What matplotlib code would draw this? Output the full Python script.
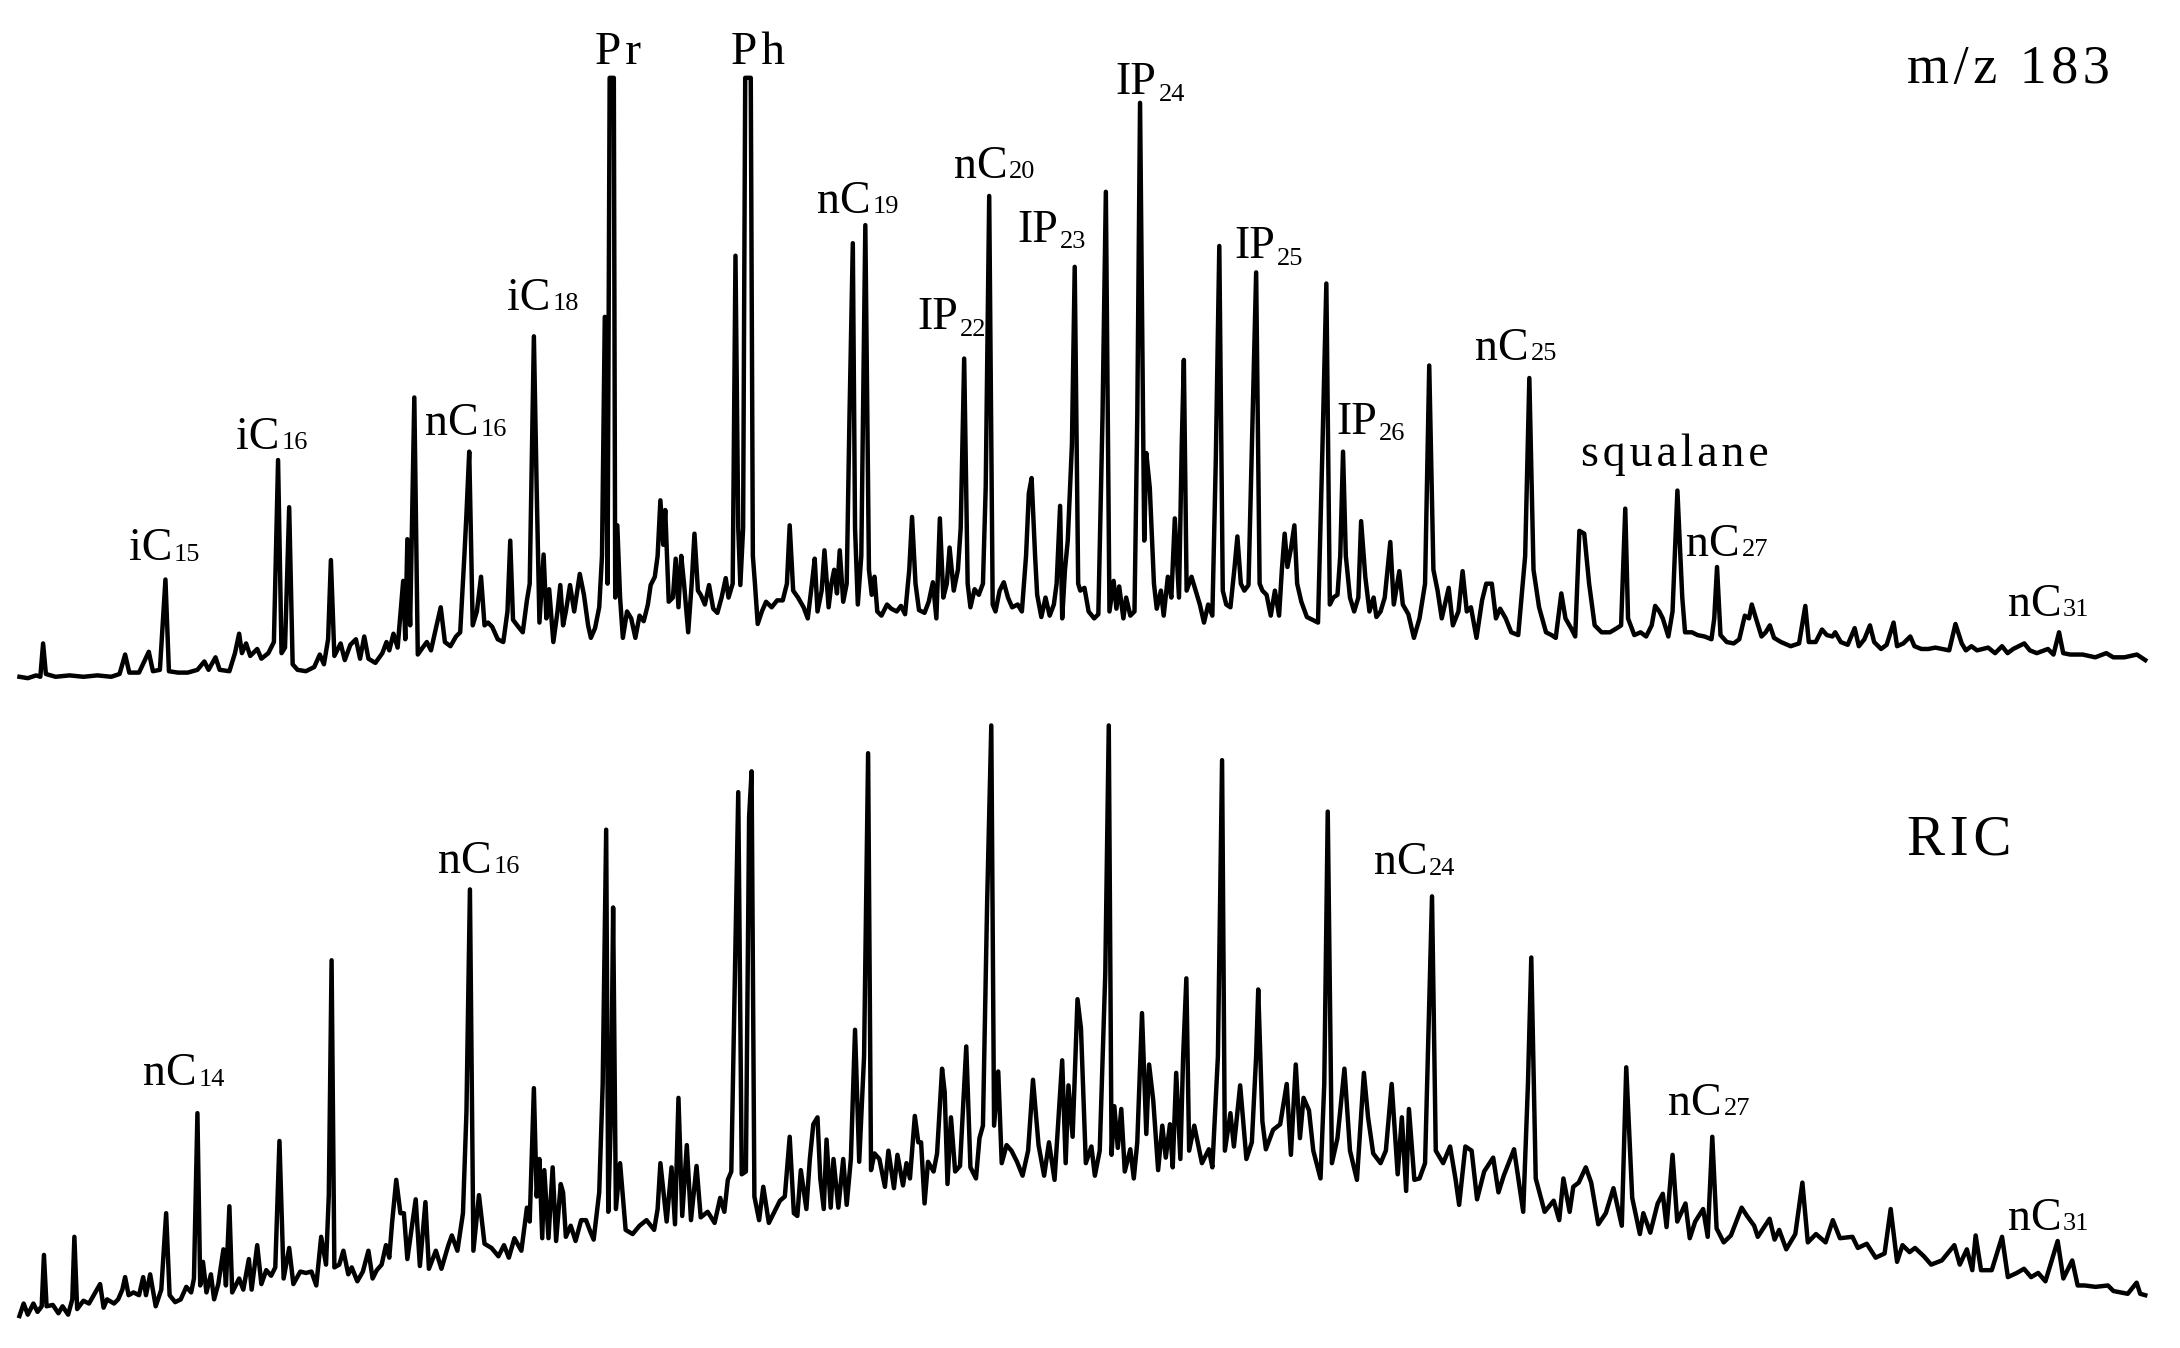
import matplotlib
matplotlib.use("Agg")
import matplotlib.pyplot as plt

# ---------------- data: scan number vs. abundance (arbitrary units) ----------------
# m/z 183 trace (vertices of the recorded trace: scan, abundance)
top_scan = [14, 20, 26, 29, 31, 33, 40, 50, 60, 70, 80, 86, 90, 93, 100, 107, 110, 115, 119, 121.5,
            128, 135, 142, 147, 150, 155, 158, 165, 169, 172, 174, 177, 180, 185, 188, 193, 195, 197,
            200, 202.5, 205, 208, 210.5, 214, 220, 226, 230, 233, 236, 238, 240.5, 245, 248, 252, 256,
            259, 262, 265, 270, 275, 278, 280, 283, 286, 290, 291.5, 293, 295, 298, 300.5, 304, 307,
            310, 314, 317, 320, 324, 328, 331, 334, 335.5, 337.5, 340, 343, 346, 348.5, 351, 354, 358,
            362, 365, 367, 369, 372, 376, 379, 381, 384, 386, 388, 391, 393, 395, 398, 401, 403, 405,
            407, 410, 413, 417, 420, 423, 425, 428, 431, 433, 435, 437, 438.5, 441.5, 442.5, 444, 446,
            448, 451, 454, 457, 460, 463, 466, 468, 471, 473, 475, 477, 478.5, 481, 484, 486, 488, 490,
            492, 495, 497.5, 499.5, 502, 504, 507, 510, 513, 516, 519, 522, 524, 527, 529, 531, 532.5,
            534.5, 536, 540, 541.5, 543, 545, 548, 551, 555, 559, 563, 566, 568, 570.5, 574, 578, 581,
            584, 586, 588, 591, 593, 596, 598, 600, 602, 604, 606.5, 609, 611, 613.4, 615, 617, 619.5,
            622.4, 625, 627, 629, 631, 634, 638, 641, 645, 648, 651, 654, 656, 658.5, 661, 665, 668,
            671, 673.5, 676, 678.5, 681, 683, 686, 689, 691, 693.5, 696, 698, 701, 704, 707, 709, 711.5,
            714, 716, 719, 722, 725, 728, 732, 735, 738, 740, 742, 744.5, 746, 749, 752, 755, 758, 760,
            762.5, 764, 766, 768, 771, 773, 775.5, 777, 780, 783, 787, 790, 793, 795.4, 798, 801, 803,
            805, 808, 810, 813, 816, 818, 820, 823, 824.5, 827, 830, 832, 835, 837, 840, 842.5, 845,
            848, 850, 851.5, 853.5, 857, 860, 863, 866, 869, 872, 874.5, 877, 879.5, 882, 885, 888, 890,
            892.5, 895, 898, 901, 903.5, 906, 908, 911, 914, 917, 920, 922, 924, 926, 928.5, 931, 933,
            936, 940, 944, 948, 951, 954, 956.5, 959, 962, 964, 966, 968, 971, 974, 977, 979, 982, 985,
            988, 990, 993, 996, 1000, 1002.5, 1006.5, 1009, 1013, 1017, 1021, 1025, 1028, 1031, 1034,
            1037, 1042, 1045, 1049, 1052, 1055, 1058, 1062, 1066, 1069, 1073, 1076, 1079, 1083, 1087,
            1092, 1097, 1100, 1103, 1107, 1112, 1116, 1119, 1123, 1126, 1130, 1133, 1136, 1139.5, 1143,
            1147, 1152, 1158, 1163, 1166, 1169, 1171, 1175.5, 1180, 1184, 1188, 1190.5, 1193.5, 1196,
            1200, 1203, 1206.5, 1210, 1212, 1217, 1221, 1226, 1231, 1233, 1235, 1237.5, 1242, 1247,
            1251, 1255, 1258, 1260, 1263, 1267, 1270, 1273, 1276, 1281, 1288, 1294, 1298.5, 1301, 1306,
            1310.5, 1314, 1318, 1320, 1324, 1329, 1334, 1337, 1341, 1345, 1348, 1353, 1357, 1362,
            1364.5, 1369, 1374, 1377, 1382, 1387, 1392, 1397, 1402, 1406.5, 1411, 1414, 1418, 1422,
            1430, 1435, 1440, 1444, 1448, 1456, 1460, 1465, 1473, 1477, 1481, 1484, 1489, 1498, 1507,
            1515, 1520, 1528, 1537, 1543]
top_abund = [13, 12, 14, 13, 37, 15, 13, 14, 13, 14, 13, 15, 29, 16, 16, 31, 17, 18, 83, 17,
             16, 16, 18, 24, 18, 27, 18, 17, 30, 44, 30, 37, 28, 33, 26, 30, 34, 38,
             169, 30, 34, 135, 22, 18, 17, 20, 29, 22, 40, 97, 28, 37, 25, 36, 40,
             26, 42, 26, 23, 30, 38, 32, 44, 34, 82, 40, 112, 50, 214, 29, 34, 38,
             32, 50, 63, 38, 35, 42, 45, 100, 130, 175, 50, 60, 85, 50, 52, 49, 40,
             38, 60, 111, 54, 50, 45, 68, 80, 258, 149, 52, 101, 55, 76, 38, 60, 79, 50,
             60, 79, 60, 87, 72, 50, 41, 48, 63, 100, 272, 80, 444, 444, 70, 122, 70,
             41, 60, 55, 41, 57, 53, 65, 79, 85, 100, 140, 108, 133, 67, 70, 98, 63, 100,
             80, 45, 80, 116, 75, 72, 65, 79, 62, 59, 70, 84, 70, 80, 316, 120, 79,
             120, 444, 444, 100, 80, 51, 60, 67, 63, 68, 68, 80, 122, 75, 70, 63, 55,
             80, 98, 60, 75, 104, 63, 80, 90, 73, 104, 67, 80, 200, 325, 120, 65, 100,
             338, 90, 72, 85, 60, 57, 65, 62, 60, 64, 58, 90, 128, 80, 61, 59, 67,
             81, 55, 127, 70, 80, 106, 75, 90, 120, 242, 80, 63, 76, 72, 80, 150, 359,
             65, 60, 75, 81, 70, 63, 65, 60, 100, 145, 156, 100, 72, 56, 70, 57, 65, 80,
             136, 55, 90, 111, 180, 308, 80, 75, 77, 60, 55, 58, 200, 362, 60, 82, 62,
             78, 55, 70, 57, 60, 200, 426, 111, 174, 149, 80, 62, 75, 57, 85, 70, 127,
             70, 180, 241, 75, 85, 75, 65, 52, 65, 57, 170, 323, 75, 65, 63, 92, 114,
             80, 75, 79, 200, 304, 80, 75, 72, 57, 75, 57, 90, 116, 92, 105, 122, 80,
             67, 56, 54, 52, 170, 296, 65, 70, 72, 100, 175, 100, 70, 60, 70, 125, 85, 60,
             70, 56, 60, 70, 110, 65, 89, 65, 58, 41, 55, 80, 237, 90, 75,
             55, 77, 50, 60, 89, 60, 63, 41, 68, 80, 80, 55, 62, 55, 45,
             43, 100, 228, 90, 63, 45, 43, 41, 73, 55, 48, 42, 118, 116, 80,
             50, 45, 45, 48, 50, 134, 55, 43, 45, 42, 50, 64, 60, 55,
             42, 60, 147, 70, 45, 45, 43, 42, 40, 55, 92, 43, 38, 37,
             40, 57, 55, 65, 55, 42, 45, 50, 41, 38, 35, 37, 64, 38, 38,
             47, 43, 42, 45, 38, 36, 48, 35, 40, 50, 38, 33, 36, 52,
             35, 37, 42, 35, 33, 33, 34, 33, 32, 51, 37, 32, 35, 32,
             34, 30, 35, 30, 33, 37, 32, 30, 33, 29, 45, 30, 29, 29, 27,
             30, 27, 27, 29, 25]

# RIC trace (vertices of the recorded trace: scan, abundance)
ric_scan = [14, 17, 20, 24, 27, 30, 31.6, 33.5, 38, 42, 45, 49, 52, 53.5, 55.5, 60, 64, 68, 72, 74.5,
            77, 82, 85, 88, 90, 92.5, 96, 100, 103, 105, 108, 112, 116, 119.5, 122, 126, 130, 134,
            137.5, 139.5, 142, 144, 146, 148.5, 151.7, 154, 157, 160.7, 162.5, 165, 167, 172, 175, 179,
            181, 185, 188, 191.5, 195, 198, 201, 204, 208, 211, 216, 220, 224, 227.5, 231, 234.5, 236.5,
            238.5, 240.5, 244, 247, 250.5, 253, 257, 261, 265, 268, 271, 274.5, 277.6, 280, 282, 285,
            288, 290.5, 293, 295.5, 299, 302, 306, 308.5, 313.5, 317.5, 322.5, 325, 329, 333, 335.5,
            338, 340.5, 344.5, 348.5, 353.5, 358.5, 362.5, 366, 370, 375, 379, 381, 384, 386, 388, 390,
            391.5, 394.5, 397.5, 400, 403.3, 405, 407, 410.5, 414, 418, 421.5, 424.5, 427, 431, 433.5,
            436, 437.5, 439.5, 441, 443, 446, 450, 455, 460, 465, 470.5, 473, 475, 479.5, 483, 485.5,
            488, 490.7, 494, 497, 501, 504, 509, 514, 518, 521, 523.5, 526, 528.5, 531, 533.5, 536.5,
            538.8, 540.6, 542.6, 546, 549, 553, 558, 561, 564.5, 568, 571, 573.5, 576, 580, 582.5, 585,
            588, 590, 592.5, 594.5, 597.5, 599.5, 603, 606.5, 609, 612, 615, 618, 621.5, 624.4, 626.5,
            629, 632.5, 636.5, 639, 643, 645.5, 649.5, 652, 654.5, 658, 660.5, 662.5, 665, 667.5, 671.5,
            674, 677.6, 679.5, 681.5, 684, 687, 690.5, 695, 698, 702, 704.5, 707, 710, 713, 715, 718,
            720.5, 724, 727.5, 731.5, 735.5, 739.5, 743, 747, 751, 754.5, 758.5, 764, 766.5, 768.5,
            771.5, 775, 777.5, 781, 785, 787.5, 791, 795, 797.5, 799.5, 801.5, 804, 806.5, 809, 813,
            815.5, 818, 821.4, 824.5, 826.5, 829.5, 833, 836, 838.5, 841.5, 843.5, 846, 849, 851, 853.3,
            855.3, 859, 864.5, 869.5, 872, 876, 879, 881, 885, 887.5, 892, 896.5, 900.4, 903.5, 905,
            908, 910.5, 915.7, 920.8, 925.5, 928.5, 932, 935, 937.6, 941.5, 944.6, 949.8, 952.5, 955,
            958, 962, 967, 971, 976, 981, 984, 987.7, 993, 996.8, 1001, 1005.3, 1008.3, 1011.4, 1013.4,
            1017.3, 1021, 1025, 1028, 1030, 1032.7, 1038, 1043, 1047, 1049.5, 1054, 1058.5, 1062.4,
            1067.5, 1074, 1077.8, 1081.6, 1089, 1095.6, 1099, 1101.4, 1104.6, 1111, 1117.5, 1121.5,
            1124.5, 1129, 1131.6, 1135.5, 1140.6, 1144.5, 1149.6, 1155, 1160.5, 1166.5, 1169.7, 1174,
            1179.5, 1182, 1187, 1192.3, 1196, 1198.7, 1203, 1206.4, 1212.3, 1215.4, 1219.3, 1225,
            1228.3, 1231.6, 1234.7, 1239.8, 1245, 1252.7, 1256.6, 1261.7, 1264.3, 1272.8, 1276.4,
            1279.7, 1284.8, 1291.3, 1296.4, 1300.3, 1306.2, 1313.1, 1318.3, 1323.4, 1332.4, 1336.3,
            1342.7, 1349.1, 1355.5, 1359.9, 1364.5, 1368.4, 1373.5, 1377.4, 1383.8, 1389, 1396.7,
            1405.7, 1409.6, 1414.7, 1418.6, 1421, 1424.9, 1432.6, 1440, 1444.2, 1450.6, 1455.8, 1460.9,
            1466, 1471.2, 1480, 1484.1, 1490.5, 1494.4, 1499.5, 1507.2, 1516.2, 1520.1, 1530.4, 1536.8,
            1539.4, 1543]
ric_abund = [13, 22, 14, 22, 16, 20, 57, 20, 21, 15, 20, 14, 25, 70, 18, 24, 22, 29, 36, 19,
             25, 22, 25, 32, 41, 28, 30, 28, 41, 28, 43, 20, 32, 87, 28, 23, 25, 34,
             30, 40, 159, 35, 52, 30, 43, 25, 36, 61, 35, 92, 30, 40, 32, 54,
             32, 64, 36, 46, 42, 48, 139, 40, 62, 36, 45, 44, 45, 35, 70, 50, 100,
             269, 48, 50, 60, 43, 48, 38, 45, 60, 40, 46, 50, 64, 55, 80, 111,
             87, 87, 54, 72, 97, 49, 95, 47, 60, 47, 64, 71, 60, 87, 160,
             320, 60, 100, 65, 62, 56, 64, 55, 69, 60, 91, 81, 177, 99, 126, 69,
             118, 69, 120, 67, 108, 102, 70, 78, 67, 82, 82, 74, 68, 102, 180,
             363, 88, 160, 307, 90, 123, 75, 72, 78, 82, 75, 90, 123, 81, 120, 79,
             170, 85, 136, 82, 121, 84, 88, 80, 98, 88, 111, 117, 252, 390, 115, 117,
             372, 405, 99, 82, 106, 80, 90, 96, 99, 142, 87, 85, 118, 90, 126, 151,
             156, 112, 90, 140, 91, 126, 91, 126, 93, 126, 219, 124, 200, 418, 118,
             130, 126, 106, 132, 105, 129, 107, 123, 112, 157, 138, 138, 94, 124, 117,
             130, 191, 174, 108, 156, 117, 121, 207, 120, 112, 141, 150, 310, 438, 150, 189,
             123, 136, 132, 124, 114, 132, 183, 136, 114, 138, 111, 197, 123, 179,
             142, 241, 220, 123, 135, 114, 132, 260, 438, 129, 164, 134, 162, 117, 133,
             112, 138, 231, 144, 194, 168, 118, 150, 127, 151, 120, 188, 126, 200, 256,
             132, 150, 123, 133, 120, 200, 413, 132, 159, 135, 179, 126, 138, 200, 248,
             153, 133, 147, 151, 180, 129, 194, 141, 170, 161, 132, 112, 180, 376,
             123, 141, 191, 132, 111, 188, 156, 130, 123, 132, 180, 115, 156, 103, 162,
             111, 112, 123, 240, 315, 132, 123, 135, 111, 93, 135, 132, 97,
             117, 127, 102, 114, 133, 88, 180, 271, 112, 88, 96, 82,
             112, 88, 106, 109, 120, 109, 79, 87, 105, 78, 192, 98,
             72, 87, 73, 94, 101, 77, 129, 81, 94, 69, 81, 90,
             70, 142, 76, 66, 71, 91, 85, 78, 70, 83, 68,
             75, 61, 72, 109, 66, 72, 66, 82, 69, 70, 62,
             65, 55, 58, 90, 52, 64, 59, 62, 56, 50, 53,
             64, 50, 61, 46, 71, 46, 46, 70, 41, 44, 47, 41,
             44, 38, 67, 40, 53, 35, 35, 34, 35, 31, 29, 37,
             29, 28]

# peak labels: (scan, abundance of text baseline, main text, subscript)
top_lab_scan = [92.5, 170, 306, 365, 428, 526, 588, 686, 660, 732, 802.6, 887.5, 961, 1061, 1137, 1213, 1444]
top_lab_abund = [97, 177, 187, 277, 454, 454, 347, 372, 263, 326, 432, 314, 188, 241, 165, 100, 57]
top_lab_main = ["iC", "iC", "nC", "iC", "Pr", "Ph", "nC", "nC", "IP", "IP", "IP", "IP", "IP", "nC",
                "squalane", "nC", "nC"]
top_lab_sub = ["15", "16", "16", "18", "", "", "19", "20", "22", "23", "24", "25", "26", "25", "", "27", "31"]

ric_lab_scan = [103, 315, 988, 1200, 1444]
ric_lab_abund = [179, 332, 331, 158, 75]
ric_lab_main = ["nC", "nC", "nC", "nC", "nC"]
ric_lab_sub = ["14", "16", "24", "27", "31"]

panel_titles = ["m/z 183", "RIC"]
title_scan = [1372, 1372]
title_abund = [440, 345]

# ---------------- drawing ----------------
FONT = ["Liberation Serif", "DejaVu Serif"]
HAIR = "\u200a"


def tracked(s):
    # wide letter spacing as in the original figure
    return HAIR.join(s)


fig = plt.figure(figsize=(10.9, 6.74), dpi=200)
fig.patch.set_facecolor("white")

ax_top = fig.add_axes([0, 470 / 970, 1, 500 / 970])
ax_bot = fig.add_axes([0, 10 / 970, 1, 500 / 970])
for ax in (ax_top, ax_bot):
    ax.set_xlim(0, 1568)
    ax.set_ylim(0, 500)
    ax.set_facecolor("none")
    ax.axis("off")

ax_top.plot(top_scan, top_abund, color="black", lw=1.6, solid_joinstyle="round", clip_on=False)
ax_bot.plot(ric_scan, ric_abund, color="black", lw=1.6, solid_joinstyle="round", clip_on=False)


def peak_label(ax, x, y, main, sub, size=16.5, subsize=9.5):
    if not sub:
        main = tracked(main)
        if len(main) < 6:
            size = 17
    t = ax.text(x, y, main, fontsize=size, family=FONT, ha="left", va="baseline", color="black")
    if sub:
        dy = 1.2 if main == "IP" else 3.4
        ax.annotate(sub, xy=(1, 0), xycoords=t, xytext=(0.6, dy), textcoords="offset points",
                    fontsize=subsize, family=FONT, ha="left", va="baseline", color="black")


for x, y, m, s in zip(top_lab_scan, top_lab_abund, top_lab_main, top_lab_sub):
    peak_label(ax_top, x, y, m, s)
for x, y, m, s in zip(ric_lab_scan, ric_lab_abund, ric_lab_main, ric_lab_sub):
    peak_label(ax_bot, x, y, m, s)

ax_top.text(title_scan[0], title_abund[0], tracked(panel_titles[0]), fontsize=19.5, family=FONT,
            ha="left", va="baseline")
ax_bot.text(title_scan[1], title_abund[1], tracked(panel_titles[1]), fontsize=20.5, family=FONT,
            ha="left", va="baseline")

fig.savefig("out.png", dpi=200)
